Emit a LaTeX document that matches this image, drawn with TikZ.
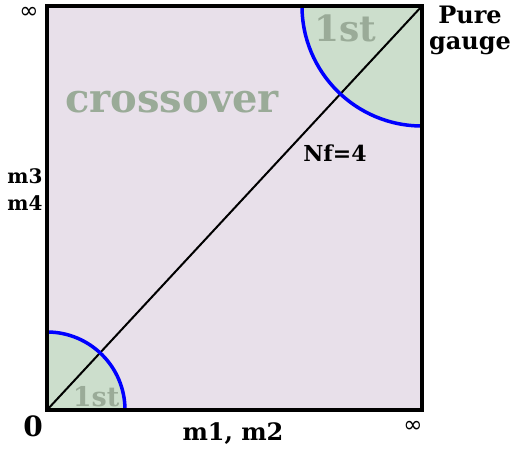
\documentclass[tikz,border=0pt]{standalone}
\usepackage{fontspec}
\setmainfont{DejaVu Serif}
\newfontfamily\inffont{DejaVu Sans}
\definecolor{regionbg}{HTML}{E8E0EA}
\definecolor{firstbg}{HTML}{CCDECC}
\definecolor{phasegrey}{HTML}{9AAB98}
\begin{document}
\begin{tikzpicture}[x=1pt, y=1pt,
    lbl/.style={font=\bfseries\fontsize{21}{25}\selectfont, inner sep=0pt, align=center},
    inf/.style={font=\inffont\fontsize{23}{23}\selectfont, inner sep=0pt, text height=7pt, text depth=0pt},
    phase/.style={text=phasegrey, font=\bfseries\fontsize{36}{36}\selectfont, inner sep=0pt}
]
\useasboundingbox (0,0) rectangle (513,452);

\coordinate (origin) at (47,42);
\coordinate (corner) at (422,446);

% background and first order regions
\fill[regionbg] (origin) rectangle (corner);
\fill[firstbg] (origin) -- ++(78,0) arc (0:90:78) -- cycle;
\fill[firstbg] (corner) -- ++(-120,0) arc (180:270:120) -- cycle;

\node[phase, font=\bfseries\fontsize{40}{40}\selectfont] (cross) at (172,350) {crossover};
\node[phase] (firsttop) at (345,424) {1st};
\node[phase, font=\bfseries\fontsize{27}{27}\selectfont] (firstbot) at (96,55) {1st};

\draw[line width=2pt] (origin) -- (corner);
\draw[blue, line width=3.5pt] (origin) ++(78,0) arc (0:90:78);
\draw[blue, line width=3.5pt] (corner) ++(-120,0) arc (180:270:120);
\draw[line width=4.5pt] (origin) rectangle (corner);

% axis labels
\node[inf, anchor=base] (infy) at (29,433) {∞};
\node[inf, anchor=base] (infx) at (413,20) {∞};
\node[lbl, font=\bfseries\fontsize{28}{28}\selectfont] (zero) at (33,26) {0};
\node[lbl, font=\bfseries\fontsize{24}{24}\selectfont] (mx) at (233,18) {m1, m2};
\node[lbl, font=\bfseries\fontsize{20}{27}\selectfont] (my) at (25,262) {m3\\m4};
\node[lbl, font=\bfseries\fontsize{24}{26}\selectfont] (pure) at (470,422) {Pure\\gauge};
\node[lbl, font=\bfseries\fontsize{22}{22}\selectfont] (nf) at (335,299) {Nf=4};

\end{tikzpicture}
\end{document}
